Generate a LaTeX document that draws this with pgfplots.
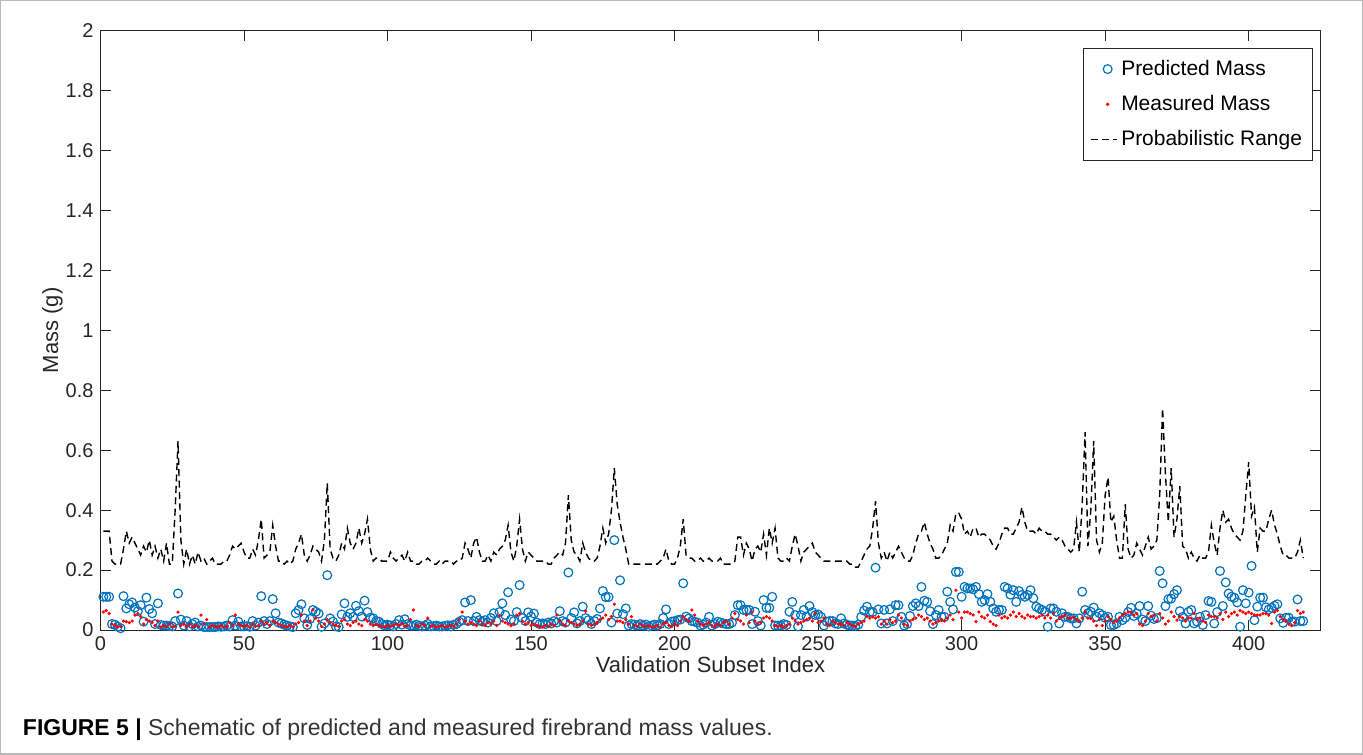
\documentclass[border=0pt]{standalone}
\usepackage{fontspec}
\setmainfont{Liberation Sans}
\usepackage{pgfplots}
\usepackage{pgfplotstable}
\pgfplotsset{compat=1.18}
\definecolor{mblue}{rgb}{0,0.447,0.741}
\definecolor{axgray}{rgb}{0.15,0.15,0.15}
\pgfplotsset{rangelegend/.style={legend image code/.code={\draw[##1] (0pt,0pt) -- (13pt,0pt);}}}

% i = subset index, p = predicted, m = measured, r = probabilistic range
\pgfplotstableread{
i p m r
1 .111 .060 .33
2 .111 .065 .33
3 .111 .055 .33
4 .020 .020 .23
5 .018 .015 .22
6 .011 .010 .22
7 .006 .012 .22
8 .113 .030 .27
9 .072 .028 .33
10 .086 .025 .29
11 .092 .030 .31
12 .075 .050 .29
13 .063 .055 .27
14 .083 .045 .25
15 .028 .020 .28
16 .108 .035 .26
17 .070 .030 .30
18 .056 .025 .25
19 .020 .015 .28
20 .089 .030 .24
21 .017 .010 .27
22 .015 .015 .23
23 .015 .012 .29
24 .013 .020 .22
25 .012 .010 .22
26 .030 .012 .40
27 .122 .060 .63
28 .035 .015 .30
29 .015 .020 .22
30 .030 .012 .27
31 .012 .018 .22
32 .020 .010 .25
33 .025 .015 .22
34 .012 .012 .26
35 .015 .050 .23
36 .010 .020 .24
37 .010 .035 .22
38 .010 .010 .23
39 .010 .015 .24
40 .010 .012 .22
41 .012 .010 .22
42 .011 .015 .22
43 .012 .010 .23
44 .015 .012 .23
45 .012 .025 .25
46 .033 .015 .28
47 .015 .050 .27
48 .028 .020 .28
49 .012 .015 .29
50 .012 .012 .26
51 .013 .015 .24
52 .011 .010 .24
53 .030 .020 .27
54 .015 .012 .25
55 .025 .015 .30
56 .113 .030 .37
57 .030 .020 .24
58 .020 .025 .25
59 .030 .015 .26
60 .103 .030 .35
61 .056 .025 .28
62 .025 .020 .23
63 .022 .015 .23
64 .018 .012 .22
65 .015 .010 .23
66 .012 .015 .22
67 .010 .010 .23
68 .056 .020 .27
69 .067 .025 .29
70 .086 .050 .32
71 .039 .030 .25
72 .017 .015 .23
73 .037 .030 .25
74 .067 .067 .28
75 .061 .040 .27
76 .055 .030 .26
77 .011 .012 .23
78 .022 .020 .30
79 .183 .035 .49
80 .039 .025 .27
81 .028 .020 .24
82 .012 .015 .23
83 .010 .012 .25
84 .052 .030 .29
85 .089 .035 .27
86 .044 .020 .34
87 .056 .015 .29
88 .044 .025 .27
89 .081 .030 .29
90 .063 .020 .34
91 .045 .015 .29
92 .098 .035 .32
93 .060 .030 .37
94 .041 .020 .27
95 .039 .015 .23
96 .030 .020 .24
97 .028 .015 .24
98 .020 .012 .23
99 .015 .010 .23
100 .018 .015 .23
101 .015 .012 .26
102 .012 .015 .24
103 .020 .020 .23
104 .033 .015 .24
105 .018 .020 .25
106 .036 .012 .23
107 .020 .015 .26
108 .015 .035 .23
109 .015 .067 .23
110 .018 .015 .22
111 .014 .012 .22
112 .012 .020 .23
113 .015 .015 .23
114 .020 .040 .24
115 .012 .012 .23
116 .013 .015 .22
117 .015 .010 .22
118 .012 .012 .23
119 .012 .015 .22
120 .014 .010 .23
121 .016 .012 .23
122 .012 .015 .23
123 .018 .012 .22
124 .020 .020 .23
125 .028 .035 .23
126 .033 .060 .24
127 .092 .030 .29
128 .030 .020 .27
129 .100 .025 .24
130 .030 .020 .29
131 .044 .015 .31
132 .033 .030 .26
133 .028 .020 .23
134 .033 .015 .23
135 .025 .025 .25
136 .040 .020 .23
137 .056 .030 .26
138 .030 .015 .25
139 .060 .048 .27
140 .089 .030 .28
141 .050 .025 .30
142 .126 .020 .35
143 .035 .015 .26
144 .030 .020 .23
145 .060 .050 .28
146 .150 .055 .37
147 .040 .030 .27
148 .030 .020 .23
149 .059 .025 .26
150 .045 .015 .25
151 .055 .020 .24
152 .025 .015 .23
153 .020 .012 .23
154 .022 .010 .23
155 .020 .015 .23
156 .025 .012 .22
157 .022 .020 .22
158 .030 .015 .24
159 .025 .050 .25
160 .063 .030 .26
161 .030 .020 .25
162 .025 .015 .29
163 .192 .030 .45
164 .040 .025 .30
165 .059 .020 .26
166 .022 .015 .25
167 .030 .020 .23
168 .078 .030 .29
169 .040 .063 .26
170 .033 .020 .24
171 .020 .015 .23
172 .030 .020 .23
173 .037 .025 .24
174 .072 .035 .28
175 .130 .040 .34
176 .110 .050 .29
177 .110 .035 .32
178 .025 .045 .40
179 .300 .086 .54
180 .055 .030 .42
181 .166 .030 .36
182 .053 .025 .31
183 .072 .035 .27
184 .015 .020 .22
185 .020 .045 .22
186 .018 .015 .22
187 .015 .012 .22
188 .020 .020 .22
189 .015 .015 .22
190 .018 .012 .22
191 .012 .015 .22
192 .015 .010 .22
193 .018 .012 .22
194 .015 .015 .22
195 .020 .010 .23
196 .040 .020 .24
197 .069 .025 .27
198 .020 .015 .23
199 .028 .012 .22
200 .030 .020 .22
201 .033 .015 .24
202 .035 .030 .28
203 .156 .045 .37
204 .045 .035 .25
205 .039 .030 .24
206 .030 .067 .24
207 .028 .050 .23
208 .025 .030 .23
209 .015 .020 .24
210 .018 .015 .23
211 .025 .020 .23
212 .044 .025 .24
213 .015 .015 .23
214 .020 .012 .23
215 .028 .020 .23
216 .025 .015 .24
217 .022 .025 .22
218 .020 .030 .22
219 .020 .020 .22
220 .025 .040 .22
221 .050 .055 .23
222 .083 .035 .31
223 .083 .030 .31
224 .067 .020 .25
225 .067 .050 .29
226 .067 .025 .27
227 .020 .060 .23
228 .061 .030 .27
229 .030 .020 .28
230 .015 .025 .26
231 .100 .040 .32
232 .074 .045 .25
233 .074 .040 .34
234 .111 .030 .29
235 .015 .015 .34
236 .015 .012 .24
237 .015 .015 .23
238 .020 .010 .23
239 .017 .015 .24
240 .061 .020 .23
241 .094 .040 .28
242 .050 .030 .32
243 .012 .020 .28
244 .050 .025 .23
245 .067 .030 .26
246 .045 .035 .27
247 .080 .040 .28
248 .060 .030 .29
249 .050 .055 .26
250 .052 .025 .25
251 .044 .030 .24
252 .015 .040 .23
253 .028 .020 .23
254 .030 .015 .23
255 .030 .030 .23
256 .022 .025 .23
257 .020 .020 .23
258 .039 .020 .23
259 .022 .015 .23
260 .018 .025 .23
261 .015 .020 .22
262 .015 .015 .22
263 .014 .012 .21
264 .018 .020 .21
265 .044 .025 .23
266 .065 .030 .25
267 .078 .045 .27
268 .060 .040 .28
269 .060 .044 .34
270 .208 .040 .43
271 .069 .044 .29
272 .022 .020 .24
273 .067 .030 .26
274 .022 .020 .23
275 .069 .035 .26
276 .030 .025 .24
277 .083 .030 .26
278 .083 .050 .28
279 .044 .040 .26
280 .015 .020 .24
281 .020 .015 .23
282 .047 .030 .23
283 .080 .035 .25
284 .089 .040 .29
285 .080 .050 .32
286 .144 .045 .33
287 .098 .035 .36
288 .094 .040 .32
289 .063 .030 .29
290 .020 .020 .27
291 .050 .025 .24
292 .067 .030 .24
293 .044 .035 .25
294 .044 .030 .27
295 .128 .040 .29
296 .094 .050 .35
297 .069 .035 .33
298 .194 .133 .39
299 .194 .060 .39
300 .111 .040 .37
301 .144 .060 .32
302 .139 .060 .33
303 .139 .055 .31
304 .136 .050 .34
305 .144 .028 .34
306 .120 .060 .31
307 .094 .045 .32
308 .100 .040 .32
309 .120 .050 .31
310 .094 .028 .30
311 .072 .020 .28
312 .061 .015 .27
313 .067 .050 .29
314 .067 .040 .32
315 .144 .045 .34
316 .139 .040 .34
317 .118 .050 .32
318 .133 .060 .32
319 .094 .045 .34
320 .130 .055 .36
321 .117 .045 .41
322 .111 .040 .36
323 .117 .050 .33
324 .133 .045 .33
325 .106 .045 .33
326 .078 .040 .32
327 .072 .045 .34
328 .067 .050 .33
329 .061 .040 .33
330 .011 .050 .32
331 .072 .040 .32
332 .072 .055 .31
333 .061 .030 .30
334 .022 .040 .31
335 .056 .045 .30
336 .044 .050 .28
337 .044 .040 .27
338 .039 .040 .26
339 .039 .042 .27
340 .022 .035 .36
341 .039 .030 .26
342 .128 .040 .42
343 .067 .060 .66
344 .056 .040 .28
345 .061 .038 .40
346 .075 .030 .63
347 .044 .015 .30
348 .056 .035 .26
349 .050 .015 .29
350 .041 .030 .45
351 .044 .045 .51
352 .017 .035 .36
353 .017 .025 .38
354 .022 .030 .30
355 .044 .040 .24
356 .033 .050 .24
357 .041 .055 .42
358 .060 .060 .27
359 .074 .060 .24
360 .047 .050 .25
361 .055 .055 .29
362 .080 .020 .27
363 .035 .015 .25
364 .030 .030 .28
365 .080 .055 .31
366 .048 .045 .27
367 .037 .050 .28
368 .040 .030 .30
369 .197 .055 .45
370 .156 .040 .74
371 .080 .020 .52
372 .103 .030 .36
373 .105 .060 .54
374 .120 .045 .31
375 .133 .033 .37
376 .063 .045 .48
377 .044 .040 .28
378 .022 .030 .27
379 .061 .040 .24
380 .067 .040 .26
381 .022 .055 .24
382 .028 .035 .23
383 .044 .040 .25
384 .017 .030 .24
385 .050 .025 .24
386 .097 .050 .26
387 .094 .045 .35
388 .022 .045 .29
389 .060 .040 .25
390 .197 .055 .34
391 .080 .035 .40
392 .159 .060 .36
393 .122 .045 .37
394 .111 .055 .34
395 .108 .060 .32
396 .092 .050 .31
397 .011 .065 .30
398 .133 .060 .33
399 .089 .055 .45
400 .125 .060 .56
401 .214 .055 .38
402 .033 .050 .41
403 .078 .050 .26
404 .108 .050 .34
405 .108 .055 .33
406 .076 .055 .33
407 .069 .050 .37
408 .074 .022 .40
409 .081 .060 .35
410 .086 .065 .32
411 .039 .045 .28
412 .024 .035 .25
413 .041 .030 .25
414 .041 .020 .24
415 .028 .015 .24
416 .028 .025 .24
417 .102 .065 .26
418 .030 .055 .30
419 .030 .060 .24
}\massdata

\begin{document}
\begin{tikzpicture}[x=1pt,y=1pt]
  % outer frame of the figure panel
  \draw[gray!55, line width=0.6pt] (-50,-62) rectangle (631.5,315);
  \begin{axis}[
      at={(0,0)}, anchor=south west,
      scale only axis, width=610.5pt, height=300pt,
      xmin=0, xmax=425, ymin=0, ymax=2,
      xtick={0,50,100,150,200,250,300,350,400},
      ytick={0,0.2,0.4,0.6,0.8,1,1.2,1.4,1.6,1.8,2},
      yticklabels={0,0.2,0.4,0.6,0.8,1,1.2,1.4,1.6,1.8,2},
      tick align=inside, major tick length=5pt,
      axis line style={axgray, line width=0.5pt},
      tick style={axgray, line width=0.5pt},
      ticklabel style={font=\fontsize{10}{12}\selectfont, text=axgray},
      xticklabel style={inner sep=0.5pt, yshift=-2.8pt},
      /pgf/number format/assume math mode=true,
      xlabel={Validation Subset Index},
      ylabel={Mass (g)},
      label style={font=\fontsize{11}{13}\selectfont, text=axgray},
      xlabel style={at={(axis description cs:0.5,-0.058)}, anchor=center, inner sep=0pt},
      ylabel style={at={(axis description cs:-0.0393,0.5)}, anchor=center},
      legend cell align=left,
      legend style={at={(rel axis cs:0.9935,0.9717)}, anchor=north east,
        draw=axgray, line width=0.5pt, fill=white,
        font=\fontsize{10.5}{12.5}\selectfont, row sep=4.5pt,
        inner xsep=3pt, inner ysep=4pt},
  ]
  \addplot[only marks, mark=o, mark size=2.2pt, color=mblue,
    mark options={line width=0.6pt}] table[x=i, y=p] {\massdata};
  \addlegendentry{Predicted Mass}
  \addplot[only marks, mark=*, mark size=0.6pt, color=red] table[x=i, y=m] {\massdata};
  \addlegendentry{Measured Mass}
  \addplot[black, line width=0.7pt, dash pattern=on 3.5pt off 2.2pt, rangelegend]
    table[x=i, y=r] {\massdata};
  \addlegendentry{Probabilistic Range}
  \end{axis}
  \node[anchor=west, inner sep=0pt] at (-39,-50)
    {\fontsize{11.5}{13.5}\selectfont\textbf{FIGURE 5 |} \textcolor{black!80}{Schematic of predicted and measured firebrand mass values.}};
\end{tikzpicture}
\end{document}
